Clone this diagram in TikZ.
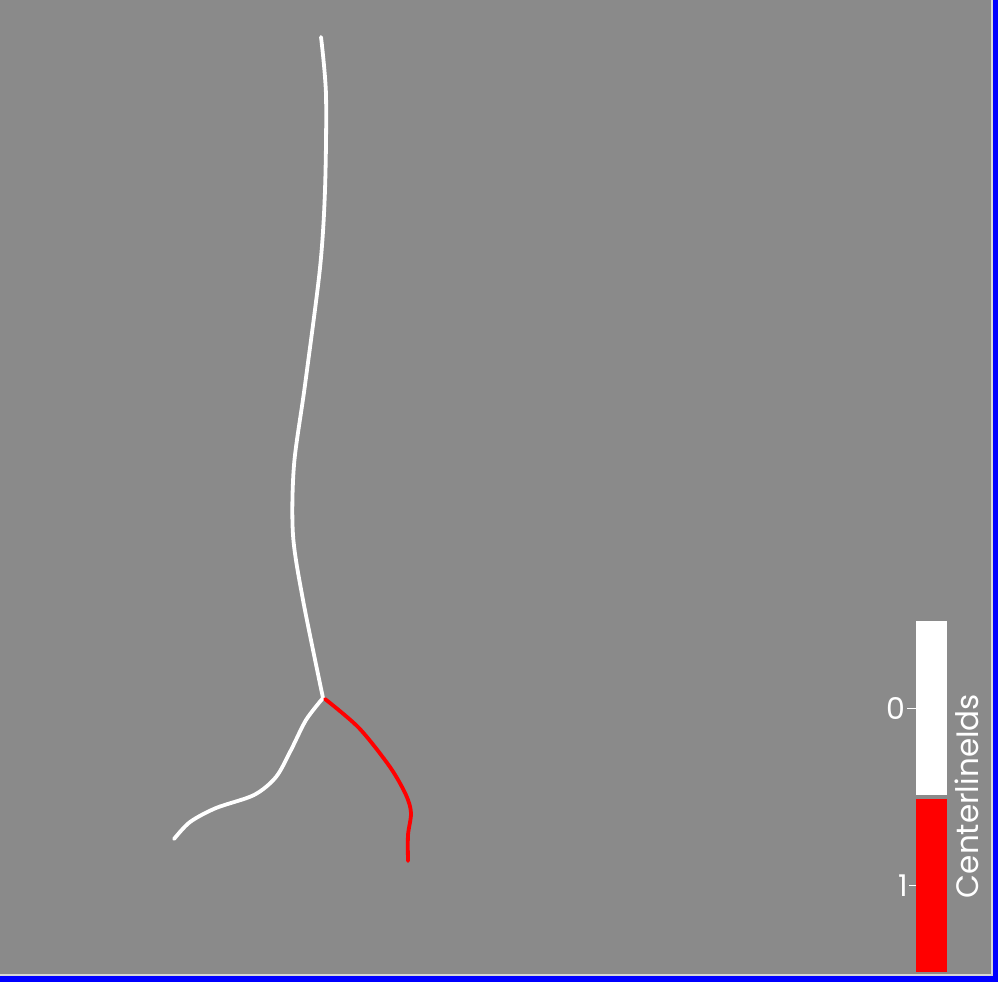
\documentclass[tikz,border=0pt]{standalone}
\usepackage{fontspec}
\setmainfont{Poppins}
\usetikzlibrary{positioning}
\usepackage{xcolor}
\definecolor{bgcolor}{RGB}{138,138,138}
\definecolor{framecolor}{RGB}{0,0,255}
\definecolor{edgecolor}{RGB}{214,214,214}

\begin{document}
\begin{tikzpicture}[x=1pt, y=-1pt]
  \tikzset{
    centerline/.style={
      line width=3.8pt,
      line join=round,
      line cap=round
    },
    colorbar/.style={
      draw=none,
      inner sep=0pt,
      minimum width=31pt,
      anchor=north west
    },
    ticklabel/.style={
      font=\fontsize{30}{32}\selectfont,
      text=white,
      inner sep=1pt,
      anchor=east
    },
    bartitle/.style={
      font=\fontsize{31}{34}\selectfont,
      text=white,
      rotate=90,
      inner sep=0pt
    }
  }

  % Background and window frame
  \fill[bgcolor] (0,0) rectangle (998,982);
  \useasboundingbox (0,0) rectangle (998,982);
  \fill[framecolor] (993,0) rectangle (998,982);
  \fill[framecolor] (0,976) rectangle (998,982);
  \draw[edgecolor, line width=2pt] (0,975) -- (992,975) -- (992,0);

  % Draw the centerlines
  \coordinate (split) at (323,698);
  \draw[centerline, white] plot[smooth] coordinates {
    (321,37) (326,95) (325,190) (320,268) (305,385)
    (294,465) (293,535) (303,600) (split)
  };
  \draw[centerline, white] plot[smooth] coordinates {
    (split) (306,720) (291,750) (276,777) (254,795)
    (216,808) (190,822) (174,839)
  };
  \draw[centerline, red] plot[smooth] coordinates {
    (325,699) (359,728) (390,767) (406,795) (411,813)
    (408,835) (408,861)
  };

  % Scalar bar
  \node[colorbar, fill=white, minimum height=174pt] at (916,621) (barzero) {};
  \node[colorbar, fill=red, minimum height=173pt] at (916,799) (barone) {};

  % Ticks and labels
  \draw[white, line width=1pt] (barzero.west) -- ++(-9,0) coordinate (tickzero);
  \node[ticklabel] at (tickzero) (labelzero) {0};
  \draw[white, line width=1pt] (barone.west) -- ++(-7,0) coordinate (tickone);
  \node[ticklabel] at (tickone) (labelone) {1};

  \node[bartitle] at (967,796) (title) {CenterlineIds};
\end{tikzpicture}
\end{document}
